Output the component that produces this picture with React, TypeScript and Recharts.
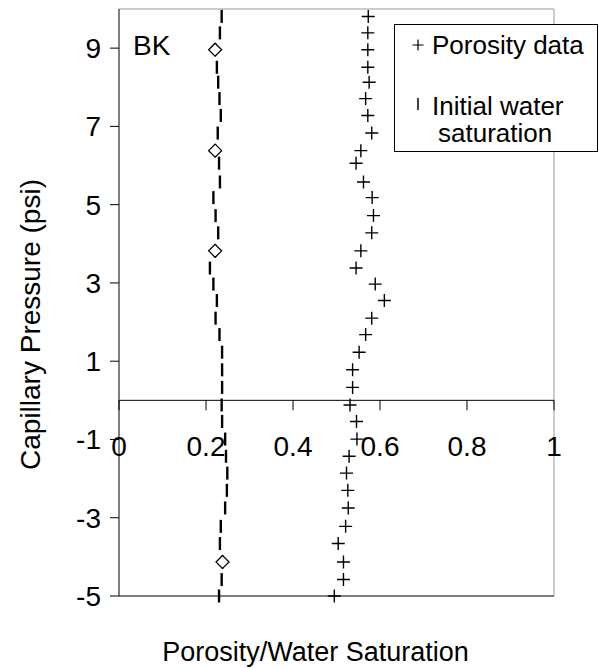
import { ScatterChart, Scatter, XAxis, YAxis, ReferenceLine, Legend } from 'recharts';

// capillary pressure (psi) of each sample, top to bottom
const pressure = [
  9.81, 9.39, 8.96, 8.51, 8.13, 7.71, 7.28, 6.83, 6.38, 6.06, 5.58, 5.18,
  4.72, 4.28, 3.82, 3.38, 2.97, 2.55, 2.1, 1.68, 1.23, 0.78, 0.33, -0.12,
  -0.54, -0.99, -1.43, -1.86, -2.3, -2.75, -3.22, -3.66, -4.13, -4.58, -5.0,
];

const porosity = [
  0.573, 0.572, 0.572, 0.572, 0.575, 0.567, 0.572, 0.581, 0.556, 0.545, 0.562, 0.582,
  0.585, 0.581, 0.556, 0.545, 0.589, 0.61, 0.581, 0.567, 0.552, 0.537, 0.537, 0.531,
  0.546, 0.547, 0.529, 0.523, 0.526, 0.527, 0.521, 0.504, 0.516, 0.516, 0.495,
];

const waterSat = [
  0.236, 0.232, 0.221, 0.225, 0.228, 0.231, 0.234, 0.227, 0.221, 0.23, 0.232, 0.217,
  0.222, 0.228, 0.221, 0.209, 0.217, 0.225, 0.222, 0.231, 0.237, 0.237, 0.237, 0.236,
  0.237, 0.244, 0.246, 0.249, 0.248, 0.244, 0.234, 0.232, 0.238, 0.236, 0.23,
];

// core measurements (diamonds)
const corePressure = [8.96, 6.38, 3.82, -4.13];
const coreSat = [0.221, 0.221, 0.221, 0.238];

const xTicks = [0, 0.2, 0.4, 0.6, 0.8, 1];
const xTickLabels = ['0', '0.2', '0.4', '0.6', '0.8', '1'];
const yTicks = [-5, -3, -1, 1, 3, 5, 7, 9];

const FONT = '"Liberation Sans", Arial, sans-serif';

const porosityData = pressure.map((p, i) => ({ x: porosity[i], y: p }));
const satData = pressure.map((p, i) => ({ x: waterSat[i], y: p }));
const coreData = corePressure.map((p, i) => ({ x: coreSat[i], y: p }));

function Plus({ cx, cy }: any) {
  return (
    <path d={`M${cx - 6.5},${cy}H${cx + 6.5}M${cx},${cy - 6.5}V${cy + 6.5}`} stroke="#000" strokeWidth={1.4} fill="none" />
  );
}

function Dash({ cx, cy }: any) {
  return <line x1={cx} x2={cx} y1={cy - 6.5} y2={cy + 6.5} stroke="#000" strokeWidth={2.4} />;
}

function Diamond({ cx, cy }: any) {
  return (
    <path d={`M${cx},${cy - 6.5}L${cx + 6.5},${cy}L${cx},${cy + 6.5}L${cx - 6.5},${cy}Z`} stroke="#000" strokeWidth={1.3} fill="#fff" />
  );
}

// x axis drawn across y = 0
function MidAxis({ viewBox }: any) {
  const { x, y, width } = viewBox;
  return (
    <g>
      {xTicks.map((t, i) => (
        <g key={t}>
          <line x1={x + t * width} x2={x + t * width} y1={y} y2={y + 10} stroke="#000" strokeWidth={1} />
          <text x={x + t * width} y={y + 56} textAnchor="middle" fontSize={28} fontFamily={FONT} fill="#000">
            {xTickLabels[i]}
          </text>
        </g>
      ))}
    </g>
  );
}

function BKLabel({ viewBox }: any) {
  return (
    <text x={viewBox.x + 14} y={viewBox.y + 46} fontSize={28} fontFamily={FONT} fill="#000">
      BK
    </text>
  );
}

function XTitle({ viewBox }: any) {
  return (
    <text x={viewBox.x + viewBox.width / 2 - 21} y={viewBox.y + viewBox.height + 35} textAnchor="middle" fontSize={27} fontFamily={FONT} fill="#000">
      Porosity/Water Saturation
    </text>
  );
}

function YTitle({ viewBox }: any) {
  const cx = 40;
  const cy = viewBox.y + viewBox.height / 2 + 22;
  return (
    <text x={cx} y={cy} transform={`rotate(-90, ${cx}, ${cy})`} textAnchor="middle" fontSize={28} fontFamily={FONT} fill="#000">
      Capillary Pressure (psi)
    </text>
  );
}

function LegendBox() {
  return (
    <div style={{ width: 204, height: 128, boxSizing: 'border-box', border: '1px solid #000', background: '#fff' }}>
      <svg width={202} height={126} style={{ display: 'block' }}>
        <path d="M17.5,20H28.5M23,14.5V25.5" stroke="#000" strokeWidth={1.2} />
        <text x={37} y={28.5} fontSize={26} fontFamily={FONT} fill="#000">Porosity data</text>
        <line x1={23} x2={23} y1={73} y2={85} stroke="#000" strokeWidth={1.5} />
        <text x={37} y={90} fontSize={26} fontFamily={FONT} fill="#000">Initial water</text>
        <text x={43} y={116.5} fontSize={26} fontFamily={FONT} fill="#000">saturation</text>
      </svg>
    </div>
  );
}

export default function App() {
  return (
    <div style={{ position: 'fixed', left: 0, top: 0, width: 599, height: 668, background: '#fff' }}>
      <ScatterChart width={599} height={668} margin={{ top: 9, right: 45, bottom: 42, left: 0 }}>
        <XAxis
          type="number"
          dataKey="x"
          domain={[0, 1]}
          tick={false}
          tickLine={false}
          axisLine={{ stroke: '#000' }}
          height={30}
          label={<XTitle />}
        />
        <YAxis
          type="number"
          dataKey="y"
          domain={[-5, 10]}
          ticks={yTicks}
          interval={0}
          width={119}
          tickSize={9}
          tickMargin={9}
          axisLine={{ stroke: '#000' }}
          tickLine={{ stroke: '#000' }}
          tick={{ fill: '#000', fontSize: 28, fontFamily: FONT }}
          label={<YTitle />}
        />
        <ReferenceLine y={10} stroke="#999" label={<BKLabel />} />
        <ReferenceLine x={1} stroke="#999" />
        <ReferenceLine y={0} stroke="#000" label={<MidAxis />} />
        <Scatter name="Initial water saturation" data={satData} shape={Dash} isAnimationActive={false} />
        <Scatter name="core" data={coreData} shape={Diamond} isAnimationActive={false} legendType="none" />
        <Scatter name="Porosity data" data={porosityData} shape={Plus} isAnimationActive={false} />
        <Legend
          layout="horizontal"
          verticalAlign="middle"
          align="center"
          content={() => <LegendBox />}
          wrapperStyle={{ position: 'absolute', left: 394, top: 24, width: 204, height: 128 }}
        />
      </ScatterChart>
    </div>
  );
}
